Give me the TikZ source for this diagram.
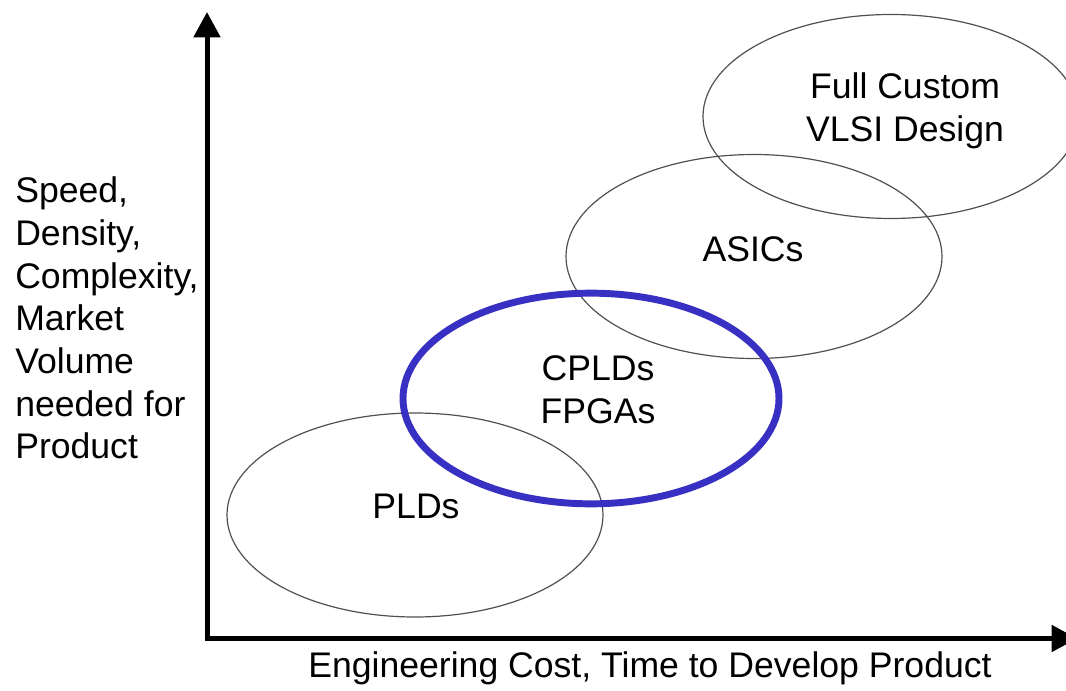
\documentclass[tikz,border=0pt]{standalone}
\usepackage{fontspec}
\setmainfont{Liberation Sans}
\usetikzlibrary{shapes.geometric,arrows.meta}
\definecolor{rimgray}{RGB}{80,80,80}
\definecolor{markblue}{RGB}{56,48,194}
\tikzset{
  oval/.style={ellipse, draw=rimgray, line width=0.9pt, inner sep=0pt,
    minimum width=282pt, minimum height=153pt},
  focus/.style={oval, draw=markblue, line width=5.2pt, minimum height=158pt},
  lbl/.style={font=\fontsize{26.7pt}{32pt}\selectfont, inner sep=0pt, align=center},
  axis/.style={line width=3.75pt, line join=miter,
    {Triangle[length=19pt,width=19.5pt]}-{Triangle[length=19pt,width=19.5pt]}}
}
\begin{document}
\begin{tikzpicture}[x=0.75pt, y=-0.75pt]
  \useasboundingbox (0,0) rectangle (1066,691);
  \clip (0,0) rectangle (1066,691);
  \fill[white] (0,0) rectangle (1066,691);

  % technology regions
  \node[oval]  (pld)   at (415,515)   {};
  \node[oval]  (asic)  at (754,256.5) {};
  \node[oval]  (vlsi)  at (891,116.5) {};
  \node[focus] (fpga)  at (591,398.5) {};

  % region names
  \node[lbl] (vlsitxt) at (905,111) {Full Custom\\VLSI Design};
  \node[lbl, anchor=base] (asictxt) at (753,262) {ASICs};
  \node[lbl] (fpgatxt) at (598,390) {CPLDs\\FPGAs};
  \node[lbl, anchor=base] (pldtxt) at (416,518) {PLDs};

  % axes
  \coordinate (ytip) at (207,12);
  \coordinate (xtip) at (1077,638.5);
  \draw[axis] (ytip) |- (xtip);

  % axis titles
  \node[lbl, align=left, anchor=west] (ylabel) at (15,318)
    {Speed,\\Density,\\Complexity,\\Market\\Volume\\needed for\\Product};
  \node[lbl, anchor=base] (xlabel) at (650,677)
    {Engineering Cost, Time to Develop Product};
\end{tikzpicture}
\end{document}
